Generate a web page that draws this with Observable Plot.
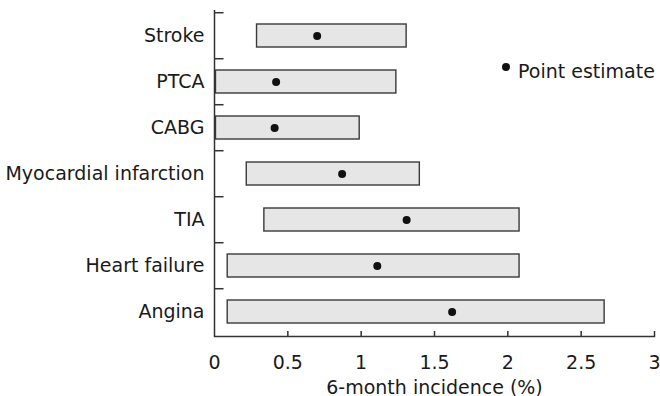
<!DOCTYPE html>
<html>
<head>
<meta charset="utf-8">
<script src="https://cdn.jsdelivr.net/npm/d3@7"></script>
<script src="https://cdn.jsdelivr.net/npm/@observablehq/plot@0.6"></script>
<style>
  html, body { margin: 0; padding: 0; background: #fff; }
  #wrap { position: relative; width: 660px; height: 396px; }
  #legend-dot { position: absolute; left: 502px; top: 63px; width: 8px; height: 8px; border-radius: 50%; background: #111; }
  #legend-text { position: absolute; left: 518px; top: 62px; font: 19px/19px "DejaVu Sans", sans-serif; color: #1a1a1a; white-space: nowrap; }
</style>
</head>
<body>
<div id="wrap">
  <div id="legend-dot"></div>
  <div id="legend-text">Point estimate</div>
</div>
<script>
const categories = ["Stroke", "PTCA", "CABG", "Myocardial infarction", "TIA", "Heart failure", "Angina"];
const lower    = [0.29, 0.01, 0.01, 0.22, 0.34, 0.09, 0.09];
const upper    = [1.31, 1.24, 0.99, 1.40, 2.08, 2.08, 2.66];
const estimate = [0.70, 0.42, 0.41, 0.87, 1.31, 1.11, 1.62];
const xTicks = [0, 0.5, 1, 1.5, 2, 2.5, 3];
const xTickLabels = ["0", "0.5", "1", "1.5", "2", "2.5", "3"];
const xTitle = "6-month incidence (%)";

const data = categories.map((c, i) => ({name: c, lo: lower[i], hi: upper[i], est: estimate[i]}));

const H = 396, MT = 10, MB = 60;
const step = (H - MT - MB) / categories.length;

const chart = Plot.plot({
  width: 660,
  height: H,
  marginTop: MT,
  marginBottom: MB,
  marginLeft: 214,
  marginRight: 6,
  style: {fontFamily: "DejaVu Sans, sans-serif", fontSize: "19px", color: "#1a1a1a", background: "#fff"},
  x: {domain: [0, 3]},
  y: {domain: categories, paddingInner: 0.5, paddingOuter: 0.25},
  marks: [
    Plot.barX(data, {x1: "lo", x2: "hi", y: "name", fill: "#e6e6e6", stroke: "#3a3a3a", strokeWidth: 1.4}),
    Plot.dot(data, {x: "est", y: "name", r: 4, fill: "#111"}),
    Plot.ruleX([0], {stroke: "#333", strokeWidth: 1.5}),
    Plot.frame({anchor: "bottom", stroke: "#333", strokeWidth: 1.5}),
    Plot.ruleY(categories, {y: d => d, x1: 0, x2: 0.065, dy: -step / 2, stroke: "#333", strokeWidth: 1.5}),
    Plot.axisX({ticks: xTicks.slice(1), tickSize: -5, tickFormat: () => "", stroke: "#333", strokeWidth: 1.5, label: null}),
    Plot.axisX({ticks: xTicks, tickSize: 0, tickPadding: 19, tickFormat: d => xTickLabels[xTicks.indexOf(d)],
                label: xTitle, labelAnchor: "center", labelArrow: "none", fontSize: 19}),
    Plot.axisY({tickSize: 0, tickPadding: 10, label: null, fontSize: 19})
  ]
});
document.getElementById("wrap").prepend(chart);
</script>
</body>
</html>
